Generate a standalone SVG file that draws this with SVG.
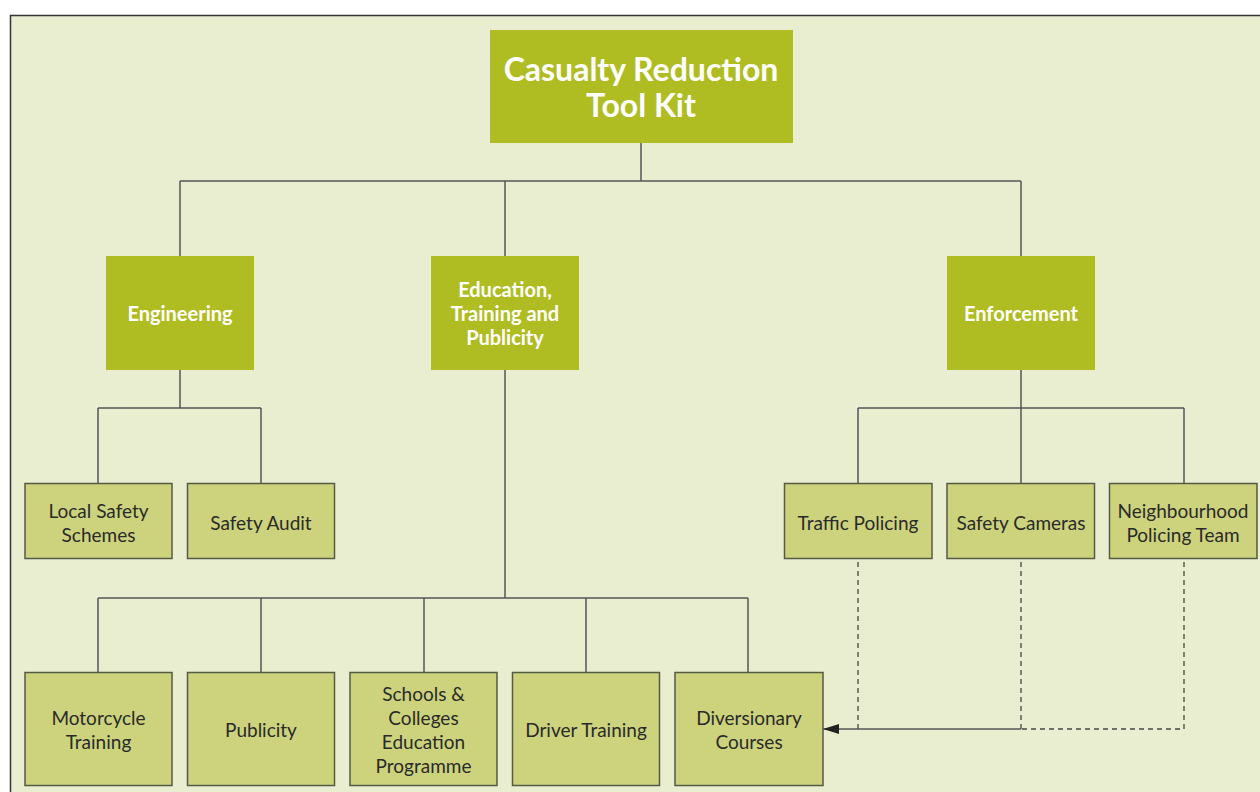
<svg xmlns="http://www.w3.org/2000/svg" width="1260" height="792" viewBox="0 0 1260 792">
<defs>
<style>
.bg{fill:#eaeed0;stroke:#333;stroke-width:1.5}
.main{fill:#b0bd22}
.leaf{fill:#cdd37d;stroke:#555a45;stroke-width:1.5}
.wt{font-family:Lato,"Open Sans",sans-serif;font-weight:bold;fill:#fff;text-anchor:middle}
.dt{font-family:Lato,"Open Sans",sans-serif;fill:#2a2a2a;font-size:19px;text-anchor:middle}
.ln{fill:none;stroke:#555;stroke-width:1.5}
.dash{fill:none;stroke:#444;stroke-width:1.3;stroke-dasharray:5 4}
</style>
<marker id="arr" viewBox="0 0 16 10" refX="16" refY="5" markerWidth="16" markerHeight="10" markerUnits="userSpaceOnUse" orient="auto">
<path d="M0,0 L16,5 L0,10 Z" fill="#222"/>
</marker>
</defs>
<rect x="0" y="0" width="1260" height="792" fill="#fff"/>
<rect class="bg" x="10.5" y="15.5" width="1260" height="790"/>
<g id="connectors">
<path class="ln" d="M641,143 V181 M180,181 H1021 M180,181 V256 M505,181 V256 M1021,181 V256"/>
<path class="ln" d="M180,370 V408 M98,408 H261 M98,408 V483 M261,408 V483"/>
<path class="ln" d="M505,370 V598 M98,598 H748 M98,598 V672 M261,598 V672 M424,598 V672 M586,598 V672 M748,598 V672"/>
<path class="ln" d="M1021,370 V408 M858,408 H1184 M858,408 V483 M1021,408 V483 M1184,408 V483"/>
<path class="dash" d="M858,562 V729 M1021,562 V729 M1184,562 V729 H1021"/>
<path class="ln" d="M1021,729 H823" marker-end="url(#arr)"/>
</g>
<g id="root"><rect class="main" x="490" y="30" width="303" height="113"/>
<text class="wt" font-size="32" x="641" y="81">Casualty Reduction</text>
<text class="wt" font-size="32" x="641" y="117">Tool Kit</text></g>
<g id="engineering"><rect class="main" x="106" y="256" width="148" height="114"/>
<text class="wt" font-size="20" x="180" y="321">Engineering</text></g>
<g id="education"><rect class="main" x="431" y="256" width="148" height="114"/>
<text class="wt" font-size="20" x="505" y="297">Education,</text>
<text class="wt" font-size="20" x="505" y="321">Training and</text>
<text class="wt" font-size="20" x="505" y="345">Publicity</text></g>
<g id="enforcement"><rect class="main" x="947" y="256" width="148" height="114"/>
<text class="wt" font-size="20" x="1021" y="321">Enforcement</text></g>
<g id="local-safety"><rect class="leaf" x="25" y="483.5" width="147" height="75"/>
<text class="dt" x="98.5" y="518">Local Safety</text>
<text class="dt" x="98.5" y="542">Schemes</text></g>
<g id="safety-audit"><rect class="leaf" x="187.5" y="483.5" width="147" height="75"/>
<text class="dt" x="261" y="530">Safety Audit</text></g>
<g id="traffic-policing"><rect class="leaf" x="784.5" y="483.5" width="147.5" height="75"/>
<text class="dt" x="858" y="530">Traffic Policing</text></g>
<g id="safety-cameras"><rect class="leaf" x="947" y="483.5" width="147.5" height="75"/>
<text class="dt" x="1021" y="530">Safety Cameras</text></g>
<g id="neighbourhood"><rect class="leaf" x="1109.5" y="483.5" width="147.5" height="75"/>
<text class="dt" x="1183" y="518">Neighbourhood</text>
<text class="dt" x="1183" y="542">Policing Team</text></g>
<g id="motorcycle"><rect class="leaf" x="25" y="672.5" width="147" height="113"/>
<text class="dt" x="98.5" y="725">Motorcycle</text>
<text class="dt" x="98.5" y="749">Training</text></g>
<g id="publicity"><rect class="leaf" x="187.5" y="672.5" width="147" height="113"/>
<text class="dt" x="261" y="737">Publicity</text></g>
<g id="schools"><rect class="leaf" x="350" y="672.5" width="147" height="113"/>
<text class="dt" x="423.5" y="701">Schools &amp;</text>
<text class="dt" x="423.5" y="725">Colleges</text>
<text class="dt" x="423.5" y="749">Education</text>
<text class="dt" x="423.5" y="773">Programme</text></g>
<g id="driver-training"><rect class="leaf" x="512.5" y="672.5" width="147" height="113"/>
<text class="dt" x="586" y="737">Driver Training</text></g>
<g id="diversionary"><rect class="leaf" x="675" y="672.5" width="148" height="113"/>
<text class="dt" x="749" y="725">Diversionary</text>
<text class="dt" x="749" y="749">Courses</text></g>
</svg>
